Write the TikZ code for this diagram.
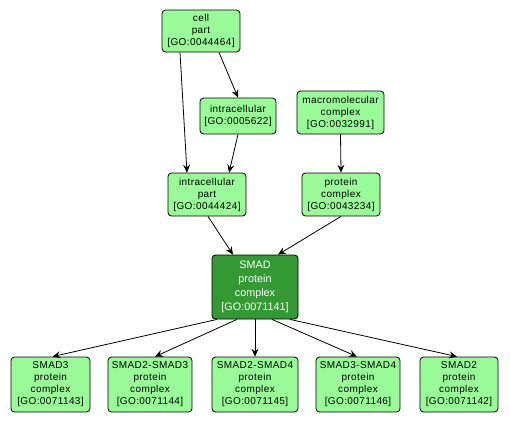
\documentclass[tikz,border=0pt]{standalone}
\usepackage{fontspec}
\setmainfont{Liberation Sans}
\newfontfamily\gospaced[LetterSpace=4]{Liberation Sans}
\usetikzlibrary{arrows.meta}
\definecolor{gofill}{HTML}{98FB98}
\definecolor{gomain}{HTML}{339933}
\begin{document}
\begin{tikzpicture}[x=1pt,y=-1pt,
  goterm/.style={draw=black, line width=0.8pt, fill=gofill, rounded corners=3.5pt, align=center,
    inner sep=0pt, font=\gospaced\fontsize{10}{12}\selectfont},
  gomainterm/.style={goterm, fill=gomain, text=white, font=\rmfamily\fontsize{10.8}{14}\selectfont},
  edge/.style={draw=black, line width=0.8pt, -{Stealth[length=8pt,width=7pt,inset=3pt]}}]
\useasboundingbox (0,0) rectangle (510,424);
\node[goterm, minimum width=78pt, minimum height=42pt] (cellpart) at (201,31) {cell\\part\\{[GO:0044464]}};
\node[goterm, minimum width=76pt, minimum height=36pt] (intra) at (238,116) {intracellular\\{[GO:0005622]}};
\node[goterm, minimum width=87pt, minimum height=43pt] (macro) at (340.5,112.5) {macromolecular\\complex\\{[GO:0032991]}};
\node[goterm, minimum width=78pt, minimum height=43pt] (ipart) at (207,194.5) {intracellular\\part\\{[GO:0044424]}};
\node[goterm, minimum width=78pt, minimum height=43pt] (pcomplex) at (341,194.5) {protein\\complex\\{[GO:0043234]}};
\node[gomainterm, minimum width=86pt, minimum height=64pt] (smad) at (255,287) {SMAD\\protein\\complex\\{[GO:0071141]}};
\node[goterm, minimum width=79pt, minimum height=55pt] (s3) at (50.5,384.5) {SMAD3\\protein\\complex\\{[GO:0071143]}};
\node[goterm, minimum width=84pt, minimum height=55pt] (s23) at (150,384.5) {SMAD2-SMAD3\\protein\\complex\\{[GO:0071144]}};
\node[goterm, minimum width=86pt, minimum height=55pt] (s24) at (255,384.5) {SMAD2-SMAD4\\protein\\complex\\{[GO:0071145]}};
\node[goterm, minimum width=84pt, minimum height=55pt] (s34) at (358,384.5) {SMAD3-SMAD4\\protein\\complex\\{[GO:0071146]}};
\node[goterm, minimum width=78pt, minimum height=55pt] (s2) at (459,384.5) {SMAD2\\protein\\complex\\{[GO:0071142]}};
\draw[edge] ([xshift=-21pt]cellpart.south) -- ([xshift=-20pt]ipart.north);
\draw[edge] ([xshift=18pt]cellpart.south) -- (intra.north);
\draw[edge] (intra.south) -- ([xshift=22pt]ipart.north);
\draw[edge] (macro.south) -- (pcomplex.north);
\draw[edge] ([xshift=1pt]ipart.south) -- ([xshift=-22pt]smad.north);
\draw[edge] (pcomplex.south) -- ([xshift=23pt]smad.north);
\draw[edge] ([xshift=-38pt]smad.south) -- ([xshift=2pt]s3.north);
\draw[edge] ([xshift=-18pt]smad.south) -- ([xshift=5pt]s23.north);
\draw[edge] (smad.south) -- (s24.north);
\draw[edge] ([xshift=17pt]smad.south) -- ([xshift=-1pt]s34.north);
\draw[edge] ([xshift=35pt]smad.south) -- ([xshift=-2pt]s2.north);
\end{tikzpicture}
\end{document}
